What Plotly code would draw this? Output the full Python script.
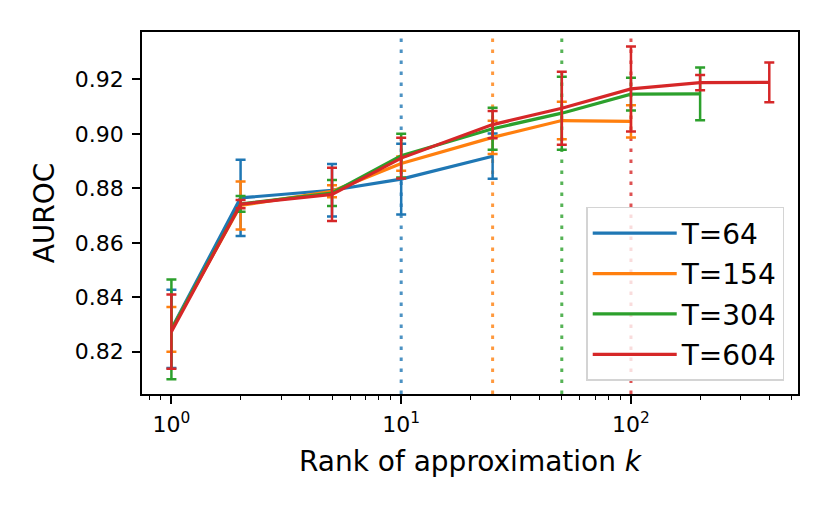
import plotly.graph_objects as go

# rank of approximation k
k_all = [1, 2, 5, 10, 25, 50, 100, 200, 400]

labels = ['T=64', 'T=154', 'T=304', 'T=604']
colors = ['#1f77b4', '#ff7f0e', '#2ca02c', '#d62728']
vline_rgba = ['rgba(31,119,180,0.8)', 'rgba(255,127,14,0.8)',
              'rgba(44,160,44,0.8)', 'rgba(214,39,40,0.8)']

auroc_64 = [0.8284, 0.8765, 0.8793, 0.8834, 0.8918]
err_64 = [0.0144, 0.0140, 0.0096, 0.0130, 0.0083]

auroc_154 = [0.8282, 0.8737, 0.8789, 0.8891, 0.8987, 0.9049, 0.9046]
err_154 = [0.0082, 0.0088, 0.0022, 0.0026, 0.0061, 0.0069, 0.0059]

auroc_304 = [0.8282, 0.8743, 0.8783, 0.8920, 0.9019, 0.9076, 0.9146, 0.9147]
err_304 = [0.0183, 0.0029, 0.0048, 0.0080, 0.0077, 0.0134, 0.0060, 0.0097]

auroc_604 = [0.8274, 0.8742, 0.8778, 0.8911, 0.9034, 0.9094, 0.9165, 0.9188, 0.9189]
err_604 = [0.0136, 0.0015, 0.0098, 0.0075, 0.0050, 0.0134, 0.0156, 0.0028, 0.0073]

# max rank used for each T (dotted lines)
vline_k = [10, 25, 50, 100]

means = [auroc_64, auroc_154, auroc_304, auroc_604]
errs = [err_64, err_154, err_304, err_604]

fig = go.Figure()

for lab, col, m, e in zip(labels, colors, means, errs):
    fig.add_trace(go.Scatter(
        x=k_all[:len(m)], y=m, name=lab, mode='lines', legendgroup=lab,
        line=dict(color=col, width=3.2),
        error_y=dict(type='data', array=e, visible=True,
                     color=col, thickness=2.5, width=5)
    ))

for k, c in zip(vline_k, vline_rgba):
    fig.add_vline(x=k, line=dict(color=c, width=3, dash='3.5px,7.5px'),
                  layer='below')

minor_vals = [d * 10 ** p for p in range(-1, 3) for d in range(2, 10)]

fig.update_xaxes(
    type='log', range=[-0.128, 2.727],
    tickvals=[1, 10, 100],
    ticktext=['10<sup>0</sup>', '10<sup>1</sup>', '10<sup>2</sup>'],
    ticks='outside', ticklen=8, tickwidth=1.5, tickcolor='black',
    ticklabelstandoff=2,
    minor=dict(tickvals=minor_vals, ticks='outside', ticklen=4,
               tickwidth=1.2, tickcolor='black'),
    showline=True, linecolor='black', linewidth=1.5, mirror=True,
    showgrid=False, zeroline=False,
    tickfont=dict(size=22, color='black'),
    title=dict(text='Rank of approximation <i>k</i>',
               font=dict(size=28, color='black'), standoff=15)
)
fig.update_yaxes(
    range=[0.8045, 0.9374], tick0=0.82, dtick=0.02, tickformat='.2f',
    ticks='outside', ticklen=8, tickwidth=1.5, tickcolor='black',
    ticklabelstandoff=4,
    showline=True, linecolor='black', linewidth=1.5, mirror=True,
    showgrid=False, zeroline=False,
    tickfont=dict(size=22, color='black'),
    title=dict(text='AUROC', font=dict(size=28, color='black'), standoff=12)
)
fig.update_layout(
    width=830, height=519,
    margin=dict(l=134, r=40, t=24, b=133),
    paper_bgcolor='white', plot_bgcolor='white',
    font=dict(family='DejaVu Sans', color='black'),
    legend=dict(x=0.979, y=0.036, xanchor='right', yanchor='bottom',
                traceorder='grouped', tracegroupgap=1, itemwidth=84,
                bgcolor='rgba(255,255,255,0.8)', bordercolor='#d4d4d4',
                borderwidth=1.5, font=dict(size=28)),
)
fig.write_html('out.html')
